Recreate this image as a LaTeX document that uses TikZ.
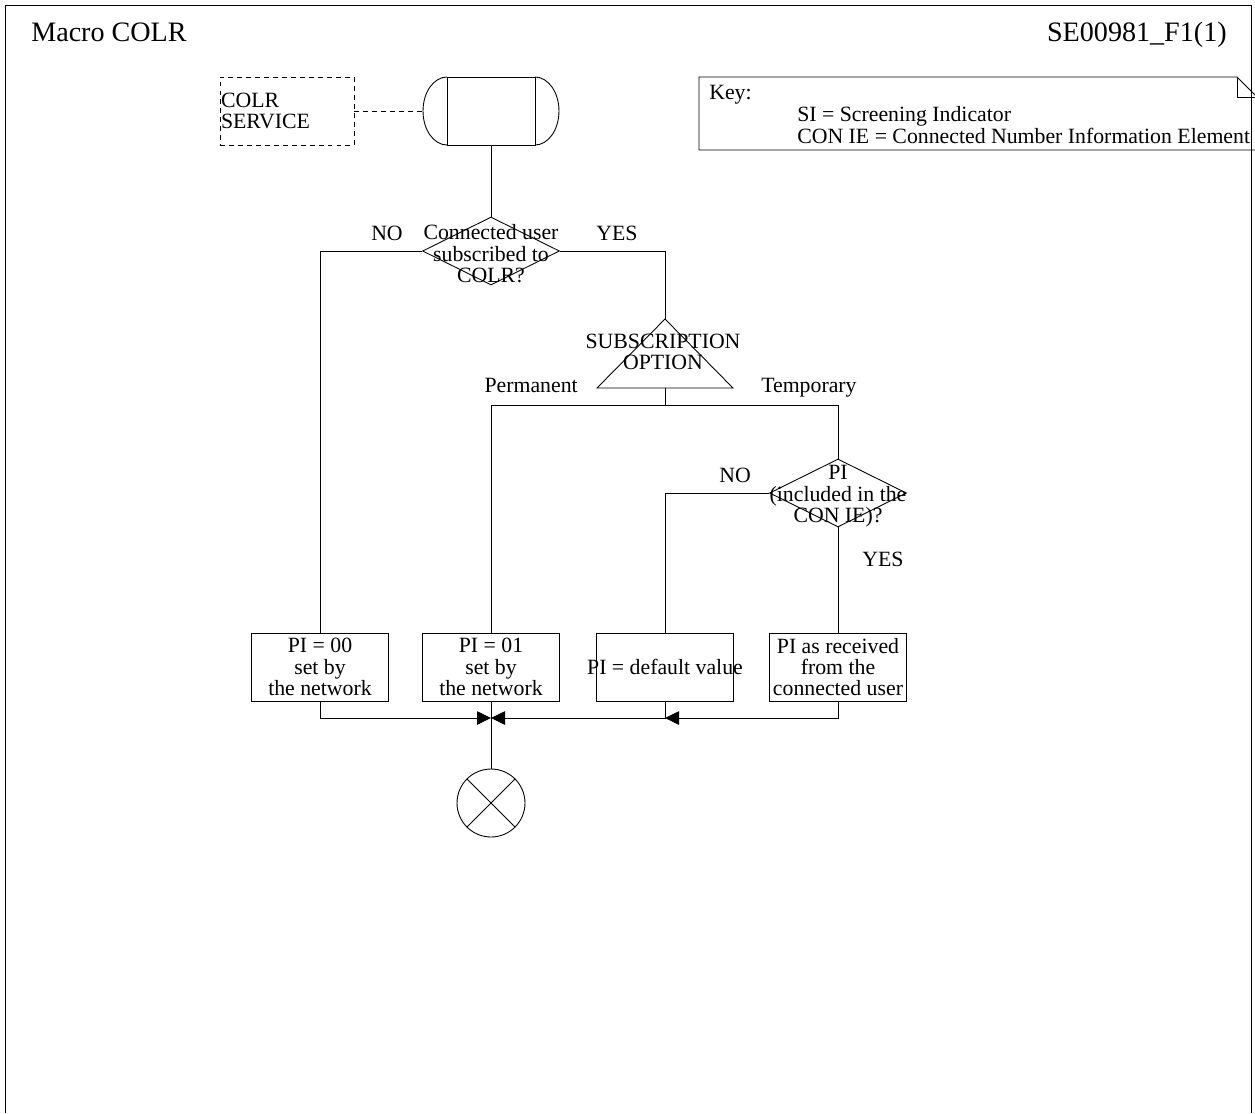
\documentclass[tikz,border=0pt]{standalone}
\usepackage{fontspec}
\setmainfont{Liberation Serif}
\usetikzlibrary{shapes.geometric,arrows.meta}

\begin{document}
\begin{tikzpicture}[x=0.02cm,y=-0.02cm,
  font=\fontsize{12.4}{12.2}\selectfont,
  line width=0.5pt,
  procbox/.style={draw,minimum width=2.74cm,minimum height=1.36cm,inner sep=0pt},
  decision/.style={diamond,draw,minimum width=2.74cm,minimum height=1.36cm,inner sep=0pt},
  inbox/.style={align=center,inner sep=0pt},
  dashline/.style={dash pattern=on 2.8pt off 2.3pt},
  arr/.style={-{Triangle[length=0.28cm,width=0.27cm]}}]
\useasboundingbox (0,0) rectangle (1255,1113);
% frame and heading
\draw (5,1113) -- (5,5) -- (1251,5) -- (1251,1113);
\node[anchor=base west,font=\fontsize{16}{19}\selectfont] (title) at (25,41) {Macro COLR};
\node[anchor=base east,font=\fontsize{16}{19}\selectfont] (ref) at (1233,41) {SE00981\_F1(1)};
% key
\draw (699,150) -- (699,77) -- (1237,77) -- (1257,97) -- (1257,150) -- cycle;
\draw (1237,77) -- (1237,97) -- (1257,97);
\node[anchor=base west] (key) at (703,99) {Key:};
\node[anchor=base west] (keysi) at (791,121) {SI = Screening Indicator};
\node[anchor=base west] (keycon) at (791,143) {CON IE = Connected Number Information Element};
% start
\node[draw,minimum width=1.76cm,minimum height=1.36cm,inner sep=0pt,outer sep=0pt] (start) at (491,111) {};
\draw (start.north west) arc[start angle=90,end angle=270,x radius=0.48cm,y radius=0.68cm];
\draw (start.north east) arc[start angle=90,end angle=-90,x radius=0.48cm,y radius=0.68cm];
\coordinate (startw) at (423,111);
\node[draw,dashline,text width=2.64cm,inner xsep=0.02cm,minimum height=1.36cm,align=left] (svc) at (287,111) {COLR\\SERVICE};
\draw[dashline] (svc.east) -- (startw);
% subscribed?
\node[decision,label={[inbox,yshift=-1.6pt]center:Connected user\\subscribed to\\COLR?}] (colr) at (491,251) {};
\node[anchor=base] (no1) at (387,240) {NO};
\node[anchor=base] (yes1) at (617,240) {YES};
% option
\coordinate (opt) at (665,319);
\coordinate (optb) at (665,388);
\draw (opt) -- (733,388) -- (597,388) -- cycle;
\node[inbox] (opttxt) at (663,352) {SUBSCRIPTION\\OPTION};
\node[anchor=base east] (perm) at (584,392) {Permanent};
\node[anchor=base west] (temp) at (755,392) {Temporary};
\coordinate (split) at (665,405);
% PI included?
\node[decision,label={[inbox,yshift=-2pt]center:PI\\(included in the\\CON IE)?}] (pi) at (838,493) {};
\node[anchor=base] (no2) at (735,482) {NO};
\node[anchor=base west] (yes2) at (856,566) {YES};
% outcomes
\foreach \nm/\xx/\txt in {pi00/320/{PI = 00\\set by\\the network},pi01/491/{PI = 01\\set by\\the network},pidef/665/{PI = default value},pirec/838/{PI as received\\from the\\connected user}}
  {\node[procbox,label={[inbox]center:\txt}] (\nm) at (\xx,667) {};}
\node[circle,draw,minimum size=1.36cm,inner sep=0pt] (stop) at (491,803) {};
\draw (stop.north west) -- (stop.south east) (stop.north east) -- (stop.south west);
\coordinate (join) at (491,718);
\coordinate (join2) at (665,718);
% connectors
\draw (start.south) -- (colr.north);
\draw (colr.west) -| (pi00.north);
\draw (colr.east) -| (opt);
\draw (optb) -- (split);
\draw (split) -| (pi01.north);
\draw (split) -| (pi.north);
\draw (pi.west) -| (pidef.north);
\draw (pi.south) -- (pirec.north);
\draw[arr] (pi00.south) |- (join);
\draw[arr] (pidef.south) |- (join);
\draw[arr] (pirec.south) |- (join2);
\draw (pi01.south) -- (stop.north);
\end{tikzpicture}
\end{document}
